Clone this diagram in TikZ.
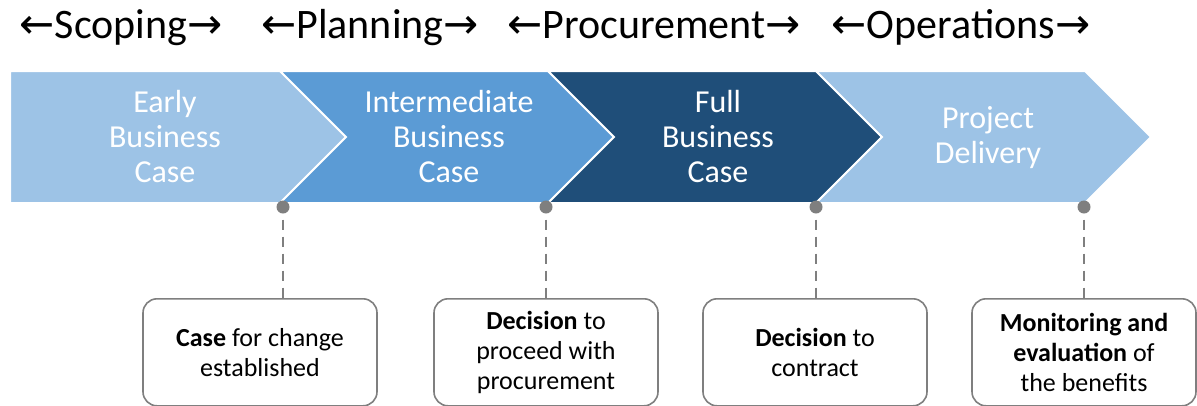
\documentclass[tikz,border=0pt]{standalone}
\usepackage{fontspec}
\setmainfont{Carlito}
\newfontfamily\arrowfont{DejaVu Sans}
\usetikzlibrary{positioning}
\definecolor{lightblue}{HTML}{9DC3E6}
\definecolor{midblue}{HTML}{5B9BD5}
\definecolor{darkblue}{HTML}{1F4E79}
\definecolor{gategray}{HTML}{7F7F7F}
\newcommand{\phaseleft}{{\arrowfont ←}}
\newcommand{\phaseright}{{\arrowfont →}}

\begin{document}
\begin{tikzpicture}[x=1pt, y=-1pt,
    phase/.style = {anchor=base, inner sep=0pt, font=\fontsize{42}{50}\selectfont},
    stage/.style = {text=white, align=center, inner sep=0pt, font=\fontsize{32}{35}\selectfont},
    chev/.style = {draw=white, line width=2pt},
    gate/.style = {circle, fill=gategray, inner sep=0pt, minimum size=13pt},
    result/.style = {draw=gategray, line width=1.6pt, rounded corners=14pt, fill=white, align=center,
                     anchor=north, minimum width=224pt, minimum height=107pt, font=\fontsize{26}{30}\selectfont},
    link/.style = {draw=gategray, line width=1.6pt, dash pattern=on 10pt off 7pt, shorten <=6pt}]
    \useasboundingbox (0,0) rectangle (1197,405);

    % phases
    \node[phase] (scoping) at (121,38) {\phaseleft Scoping\phaseright};
    \node[phase] (planning) at (370,38) {\phaseleft Planning\phaseright};
    \node[phase] (procurement) at (654,38) {\phaseleft Procurement\phaseright};
    \node[phase] (operations) at (961,38) {\phaseleft Operations\phaseright};

    % chevrons
    \path[fill=lightblue, chev] (10,71) -- (280,71) -- (346,137) -- (280,203) -- (10,203) -- cycle;
    \foreach \s/\e/\col in {280/548/midblue, 548/816/darkblue, 816/1085/lightblue}
        \path[fill=\col, chev] (\s,71) -- (\e,71) -- (\e+66,137) -- (\e,203) -- (\s,203) -- (\s+66,137) -- cycle;

    \node[stage] (early) at (165,137) {Early\\Business\\Case};
    \node[stage] (intermediate) at (449,137) {Intermediate\\Business\\Case};
    \node[stage] (full) at (718,137) {Full\\Business\\Case};
    \node[stage] (delivery) at (988,138) {Project\\Delivery};

    % gates
    \node[gate] (g1) at (283,207) {};
    \node[gate] (g2) at (546,207) {};
    \node[gate] (g3) at (816,207) {};
    \node[gate] (g4) at (1084,207) {};

    % results
    \node[result, minimum width=234pt] (r1) at (260,298) {\textbf{Case} for change\\established};
    \node[result] (r2) at (546,298) {\textbf{Decision} to\\proceed with\\procurement};
    \node[result] (r3) at (815,298) {\textbf{Decision} to\\contract};
    \node[result] (r4) at (1084,298) {\textbf{Monitoring and}\\\textbf{evaluation} of\\the benefits};

    \draw[link] (g1) -- (g1 |- r1.north);
    \draw[link] (g2) -- (g2 |- r2.north);
    \draw[link] (g3) -- (g3 |- r3.north);
    \draw[link] (g4) -- (g4 |- r4.north);
\end{tikzpicture}
\end{document}
